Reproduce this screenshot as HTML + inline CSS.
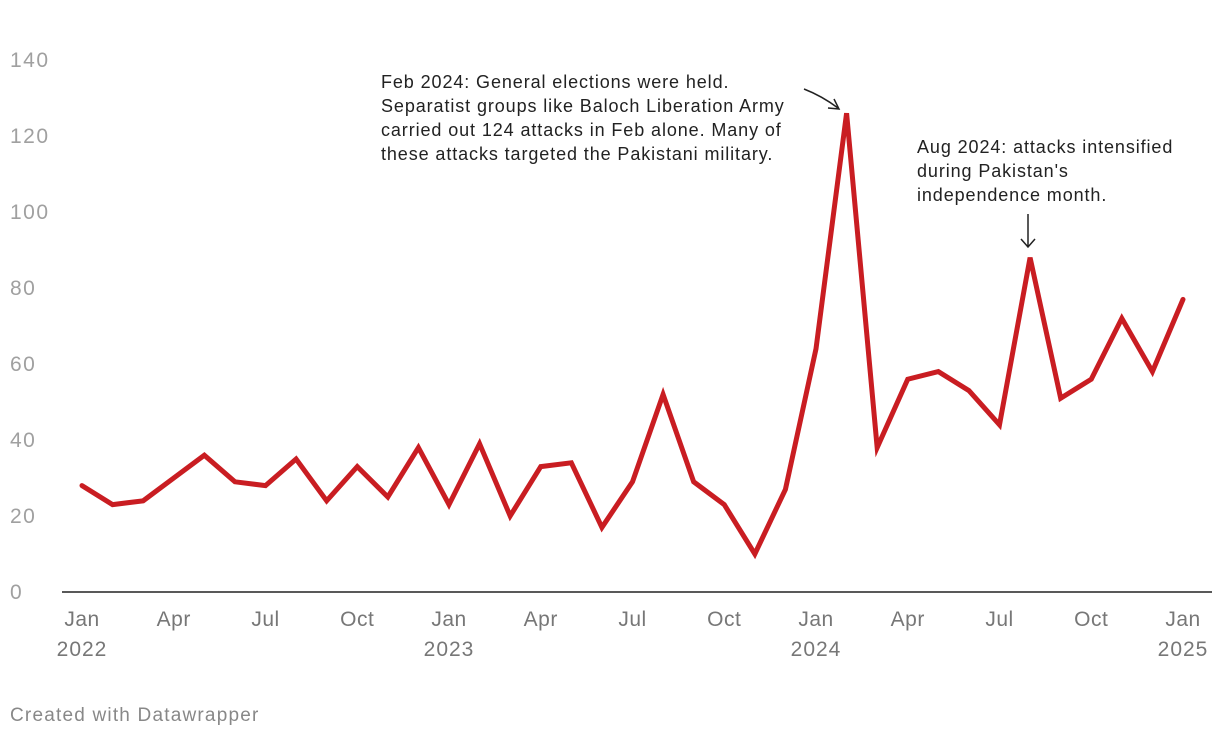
<!DOCTYPE html>
<html><head><meta charset="utf-8"><style>
body{margin:0;background:#fff;width:1220px;height:738px;overflow:hidden;font-family:"Liberation Sans",sans-serif}
</style></head><body>
<svg id="chart" width="1220" height="738" xmlns="http://www.w3.org/2000/svg"></svg>
<script>
const months=["Jan","Feb","Mar","Apr","May","Jun","Jul","Aug","Sep","Oct","Nov","Dec"];
const attacks=[28,23,24,30,36,29,28,35,24,33,25,38,23,39,20,33,34,17,29,52,29,23,10,27,64,126,38,56,58,53,44,88,51,56,72,58,77];
const yTicks=[0,20,40,60,80,100,120,140];
const xTickIdx=[0,3,6,9,12,15,18,21,24,27,30,33,36];
const ns="http://www.w3.org/2000/svg";
const svg=document.getElementById('chart');
const x=i=>82+i*(1183-82)/36;
const y=v=>592-v*3.8;
function el(t,a,txt){const e=document.createElementNS(ns,t);for(const k in a)e.setAttribute(k,a[k]);if(txt!=null)e.textContent=txt;svg.appendChild(e);return e;}
yTicks.forEach(v=>{
 const t=el('text',{x:10,y:y(v)+7,'font-size':21,'letter-spacing':1.5,fill:'#a0a0a0'},v);
 
 
});
const base=el('line',{x1:62,x2:1212,y1:592,y2:592,stroke:'#222','stroke-width':1.5});


xTickIdx.forEach(i=>{
 const m=months[i%12];
 const t=el('text',{x:x(i),y:626,'font-size':21,'letter-spacing':0.5,fill:'#777','text-anchor':'middle'},m);
 
 
 if(i%12===0){
  const yr=el('text',{x:x(i),y:656,'font-size':21,'letter-spacing':1,fill:'#777','text-anchor':'middle'},2022+i/12);
  
  
 }
});
const line=el('polyline',{points:attacks.map((v,i)=>x(i)+','+y(v)).join(' '),fill:'none',stroke:'#c91d22','stroke-width':5,'stroke-linejoin':'miter','stroke-linecap':'round'});


function note(lines,x0,y0,name){
 lines.forEach((s,k)=>{
  const t=el('text',{x:x0,y:y0+k*24,'font-size':18,'letter-spacing':0.9,fill:'#222'},s);
  
  
 });
}
note(["Feb 2024: General elections were held.","Separatist groups like Baloch Liberation Army","carried out 124 attacks in Feb alone. Many of","these attacks targeted the Pakistani military."],381,88,'annotation-feb-2024');
note(["Aug 2024: attacks intensified","during Pakistan's","independence month."],917,153,'annotation-aug-2024');
const a1=el('path',{d:'M804,89 Q822,96 838,108 M828,108 L839,109 L834,99',fill:'none',stroke:'#222','stroke-width':1.5});


const a2=el('path',{d:'M1028,214 L1028,247 M1021,239 L1028,247 L1035,239',fill:'none',stroke:'#222','stroke-width':1.5});


const c=el('text',{x:10,y:721,'font-size':19,'letter-spacing':1.2,fill:'#888'},'Created with Datawrapper');


</script>
</body></html>
